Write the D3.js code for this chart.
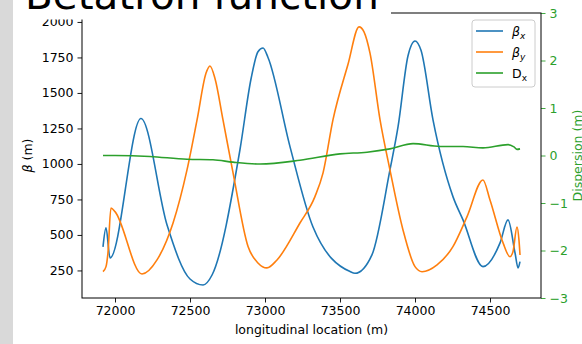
<!DOCTYPE html>
<html>
<head>
<meta charset="utf-8">
<script src="https://cdn.jsdelivr.net/npm/d3@7"></script>
<style>
  body { margin: 0; background: #fff; }
  svg { display: block; font-family: "DejaVu Sans", sans-serif; }
</style>
</head>
<body>
<div id="chart"></div>
<script>
// longitudinal position (m) and beta / dispersion values
var betaxS = [71920, 71940, 71967, 72173, 72347, 72500, 72587, 72647, 72833, 72907, 72953, 72987, 73020, 73167, 73320, 73567, 73600, 73713, 73833, 73887, 73953, 74000, 74040, 74120, 74253, 74320, 74453, 74567, 74620, 74667, 74687, 74700]
var betaxV = [416, 550, 338, 1320, 570, 190, 148, 218, 1100, 1600, 1790, 1817, 1750, 1120, 556, 242, 230, 360, 958, 1262, 1760, 1866, 1800, 1310, 770, 606, 277, 444, 606, 373, 267, 312]

var betayS = [71920, 71940, 71953, 71973, 72000, 72180, 72280, 72387, 72480, 72547, 72607, 72633, 72667, 72720, 72787, 72887, 72953, 73013, 73080, 73233, 73333, 73387, 73453, 73553, 73627, 73660, 73700, 73767, 73833, 73920, 74000, 74047, 74147, 74253, 74347, 74453, 74500, 74587, 74633, 74653, 74680, 74693, 74700]
var betayV = [241, 277, 373, 690, 664, 225, 324, 584, 958, 1310, 1640, 1690, 1600, 1310, 937, 418, 303, 268, 324, 584, 770, 937, 1310, 1700, 1965, 1930, 1780, 1310, 958, 535, 277, 241, 289, 418, 629, 887, 746, 444, 347, 382, 556, 465, 359]

var dispS = [71920, 72000, 72233, 72480, 72653, 72787, 72967, 73233, 73500, 73680, 73833, 73987, 74167, 74320, 74453, 74620, 74660, 74680, 74700]
var dispV = [0.0, 0.0, -0.02, -0.08, -0.09, -0.14, -0.18, -0.1, 0.035, 0.07, 0.14, 0.25, 0.19, 0.19, 0.16, 0.23, 0.18, 0.13, 0.14]

var xTicks = [72000, 72500, 73000, 73500, 74000, 74500]
var yTicks = [250, 500, 750, 1000, 1250, 1500, 1750, 2000]
var y2Ticks = [-3, -2, -1, 0, 1, 2, 3]

var width = 582, height = 344
var plotL = 82, plotR = 541, plotT = 13, plotB = 298
var blue = '#1f77b4', orange = '#ff7f0e', green = '#2ca02c'

var svg = d3.select('#chart').append('svg')
  .attr('width', width)
  .attr('height', height)

// grey strip on the left edge of the picture
svg.append('rect').attr('x', 0).attr('y', 0).attr('width', 13).attr('height', height)
  .attr('fill', '#d9d9d9')

var x = d3.scaleLinear().domain([71780, 74840]).range([plotL, plotR])
var y = d3.scaleLinear().domain([56, 2063]).range([plotB, plotT])
var y2 = d3.scaleLinear().domain([-3, 3]).range([plotB, plotT])

svg.append('clipPath').attr('id', 'plot')
  .append('rect').attr('x', plotL).attr('y', plotT).attr('width', plotR - plotL).attr('height', plotB - plotT)

var g = svg.append('g').attr('clip-path', 'url(#plot)')

var line = d3.line().curve(d3.curveMonotoneX)

function drawLine(s, v, scale, color) {
  var pts = s.map(function(d, i) { return [x(d), scale(v[i])] })
  g.append('path')
    .attr('d', line(pts))
    .attr('fill', 'none')
    .attr('stroke', color)
    .attr('stroke-width', 1.6)
    .attr('stroke-linejoin', 'round')
}

drawLine(betaxS, betaxV, y, blue)
drawLine(betayS, betayV, y, orange)
drawLine(dispS, dispV, y2, green)

// axes
var fs = '12.5px'

var xAxis = svg.append('g')
  .attr('transform', 'translate(0,' + plotB + ')')
  .call(d3.axisBottom(x).tickValues(xTicks).tickFormat(d3.format('d')).tickSize(4.5).tickPadding(4))
var yAxis = svg.append('g')
  .attr('transform', 'translate(' + plotL + ',0)')
  .call(d3.axisLeft(y).tickValues(yTicks).tickFormat(d3.format('d')).tickSize(4.5).tickPadding(4))
var y2Axis = svg.append('g')
  .attr('transform', 'translate(' + plotR + ',0)')
  .call(d3.axisRight(y2).tickValues(y2Ticks).tickFormat(function(d) { return d < 0 ? '\u2212' + (-d) : d }).tickSize(4.5).tickPadding(4))

;[xAxis, yAxis, y2Axis].forEach(function(a) {
  a.select('.domain').remove()
  a.selectAll('text').attr('font-size', fs).attr('font-family', 'DejaVu Sans')
  a.selectAll('line').attr('stroke-width', 0.9)
})
xAxis.selectAll('text').attr('fill', '#000')
yAxis.selectAll('text').attr('fill', '#000')
y2Axis.selectAll('line').attr('stroke', green)
y2Axis.selectAll('text').attr('fill', green)

// frame
svg.append('rect')
  .attr('x', plotL).attr('y', plotT).attr('width', plotR - plotL).attr('height', plotB - plotT)
  .attr('fill', 'none').attr('stroke', '#000').attr('stroke-width', 1)

// labels
svg.append('text')
  .attr('x', (plotL + plotR) / 2).attr('y', 334)
  .attr('text-anchor', 'middle').attr('font-size', fs)
  .text('longitudinal location (m)')

var yl = svg.append('text')
  .attr('transform', 'translate(31.5,' + (plotT + plotB) / 2 + ') rotate(-90)')
  .attr('text-anchor', 'middle').attr('font-size', fs)
yl.append('tspan').attr('font-style', 'italic').text('\u03b2')
yl.append('tspan').text(' (m)')

svg.append('text')
  .attr('transform', 'translate(582,' + (plotT + plotB) / 2 + ') rotate(-90)')
  .attr('text-anchor', 'middle').attr('font-size', fs).attr('fill', green)
  .text('Dispersion (m)')

// legend
var legend = svg.append('g')
legend.append('rect')
  .attr('x', 472).attr('y', 20).attr('width', 63).attr('height', 67).attr('rx', 3)
  .attr('fill', '#fff').attr('fill-opacity', 0.8)
  .attr('stroke', '#cccccc').attr('stroke-width', 1)

var legendItems = [
  { color: blue, main: '\u03b2', sub: 'x', italic: true },
  { color: orange, main: '\u03b2', sub: 'y', italic: true },
  { color: green, main: 'D', sub: 'x', italic: false }
]
legendItems.forEach(function(d, i) {
  var ly = 31 + i * 21
  legend.append('line')
    .attr('x1', 476).attr('x2', 503).attr('y1', ly).attr('y2', ly)
    .attr('stroke', d.color).attr('stroke-width', 1.6)
  var t = legend.append('text')
    .attr('x', 512).attr('y', ly + 4.5).attr('font-size', fs)
  t.append('tspan').attr('font-style', d.italic ? 'italic' : 'normal').text(d.main)
  t.append('tspan').attr('font-style', d.italic ? 'italic' : 'normal')
    .attr('font-size', '9px').attr('dy', 3).text(d.sub)
})

// title box covering the top, only the bottom of the big title is visible
svg.append('rect').attr('x', 13).attr('y', 0).attr('width', 378).attr('height', 19.5)
  .attr('fill', '#fff')
svg.append('text')
  .attr('x', 25).attr('y', 9)
  .attr('font-size', '40.5px')
  .text('Betatron function')
</script>
</body>
</html>
